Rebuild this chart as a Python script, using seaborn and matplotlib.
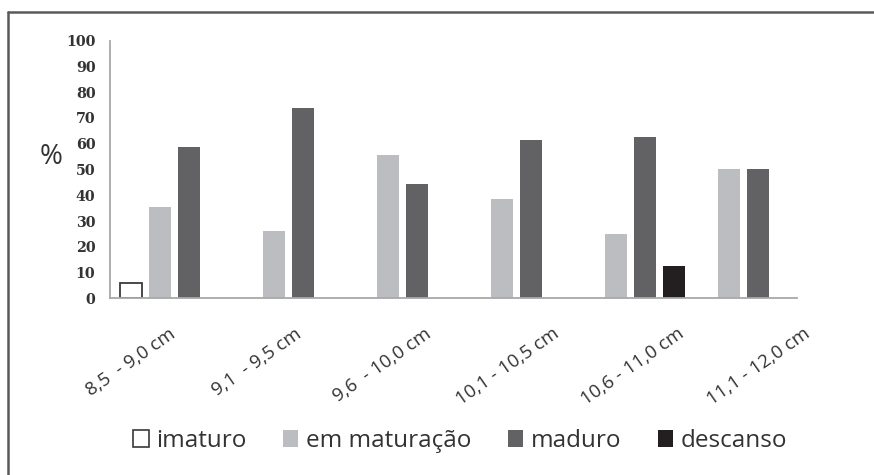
import numpy as np
import pandas as pd
import matplotlib
matplotlib.use("Agg")
import matplotlib.pyplot as plt
from matplotlib.lines import Line2D
import seaborn as sns

# Length classes (total length) and maturity stage frequencies (%)
classes = ["8,5  - 9,0 cm", "9,1  - 9,5 cm", "9,6  - 10,0 cm",
           "10,1 - 10,5 cm", "10,6 - 11,0 cm", "11,1 - 12,0 cm"]
stages = ["imaturo", "em maturação", "maduro", "descanso"]
imaturo = [5.9, 0, 0, 0, 0, 0]
em_maturacao = [35.3, 26.0, 55.6, 38.5, 25.0, 50.0]
maduro = [58.8, 74.0, 44.4, 61.5, 62.5, 50.0]
descanso = [0, 0, 0, 0, 12.5, 0]
y_ticks = [0, 10, 20, 30, 40, 50, 60, 70, 80, 90, 100]

colors = ["#ffffff", "#bcbdc0", "#626264", "#231f20"]
edge_imaturo = "#3a3a3a"

# long-form table, classes without a given stage have no bar
series = [imaturo, em_maturacao, maduro, descanso]
rows = []
for stage, vals in zip(stages, series):
    for cls, v in zip(classes, vals):
        if v > 0:
            rows.append({"classe": cls, "estagio": stage, "pct": v})
df = pd.DataFrame(rows)

sns.set_theme(style="white")
plt.rcParams["font.family"] = ["Open Sans", "DejaVu Sans"]

fig = plt.figure(figsize=(8.74, 4.75), dpi=100)
ax = fig.add_axes([110 / 874, 1 - 298.3 / 475, 687 / 874, 257.6 / 475])

sns.barplot(data=df, x="classe", y="pct", hue="estagio",
            order=classes, hue_order=stages, palette=colors,
            width=1.02, gap=0.24, errorbar=None, ax=ax,
            saturation=1, linewidth=0)

for cont, stage in zip(ax.containers, stages):
    for p in cont:
        if stage == "imaturo":
            p.set_edgecolor(edge_imaturo)
            p.set_linewidth(1.3)
        else:
            p.set_edgecolor("none")

ax.set_xlim(-0.570, 5.467)
ax.set_ylim(0, 100)
ax.set_xlabel("")
ax.set_ylabel("")

# y axis
ax.set_yticks(y_ticks)
ax.set_yticklabels([str(t) for t in y_ticks], family="DejaVu Serif",
                   fontweight="bold", fontsize=10.3, color="#333333")
ax.tick_params(axis="y", length=0, pad=10.5)

# x axis labels, rotated
label_pos = -0.386 + 1.103 * np.arange(len(classes))
ax.set_xticks(label_pos)
ax.set_xticklabels(classes, rotation=35, ha="center", fontsize=13.5,
                   color="#333333")
ax.tick_params(axis="x", length=0, pad=19)

for side in ["top", "right"]:
    ax.spines[side].set_visible(False)
for side in ["left", "bottom"]:
    ax.spines[side].set_color("#a8a8a8")
    ax.spines[side].set_linewidth(1.3)

fig.text(51 / 874, 1 - 157 / 475, "%", fontsize=20, color="#333333",
         ha="center", va="center")

handles, labels = ax.get_legend_handles_labels()
ax.get_legend().remove()
leg = fig.legend(handles, labels, loc="center",
                 bbox_to_anchor=(460 / 874, 1 - 441 / 475),
                 ncol=4, frameon=False, fontsize=17.5, handlelength=0.65,
                 handleheight=0.65, handletextpad=0.3, columnspacing=1.5,
                 labelcolor="#333333")
leg.legend_handles[0].set_edgecolor(edge_imaturo)
leg.legend_handles[0].set_linewidth(1.2)

# frame around the chart
fig.add_artist(Line2D([7.5 / 874, 7.5 / 874], [0, 1 - 12 / 475],
                      transform=fig.transFigure, color="#5a5a5a", lw=1.8))
fig.add_artist(Line2D([7.5 / 874, 1], [1 - 12 / 475, 1 - 12 / 475],
                      transform=fig.transFigure, color="#5a5a5a", lw=1.8))

fig.savefig("out.png", dpi=100)
